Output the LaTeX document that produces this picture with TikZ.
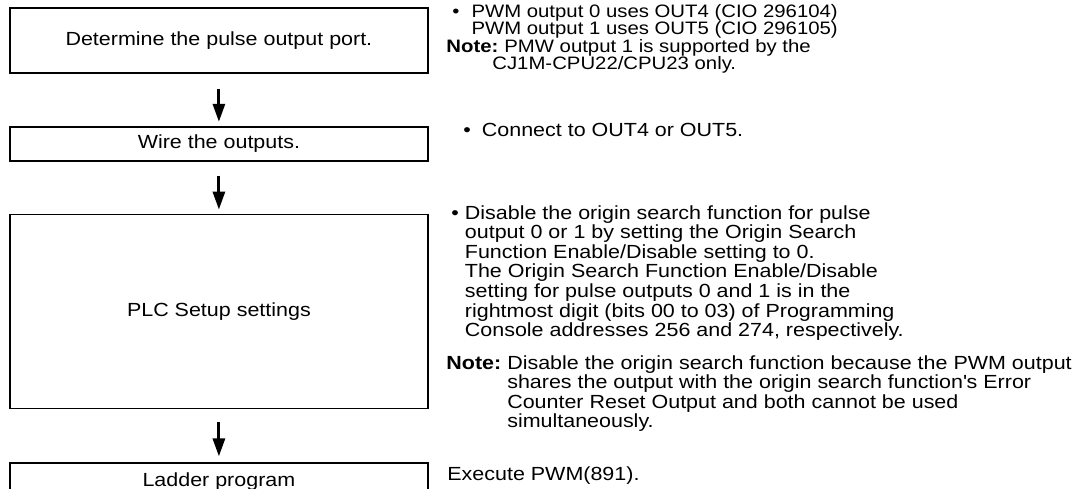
\documentclass[tikz,border=0pt]{standalone}
\usepackage{fontspec}
\setmainfont{Liberation Sans}[FakeStretch=1.13]
\usetikzlibrary{arrows.meta, positioning}

\newcommand{\blt}{\textbullet}

\begin{document}
\begin{tikzpicture}[x=1pt, y=-1pt, thick]

	\tikzset{
		stepbox/.style={
				draw, line width=1.8pt, minimum width=418pt, inner sep=0pt, font=\fontsize{19}{21}\selectfont
			},
		flow/.style={
				line width=3pt, -{Triangle[width=12pt, length=18pt]}
			},
		info/.style={
				anchor=base west, inner sep=0pt, font=\fontsize{19}{19.5}\selectfont
			},
		topinfo/.style={
				info, font=\fontsize{18}{19}\selectfont
			},
	}

	\clip (0,0) rectangle (1081,489);

	\node[stepbox, minimum height=65pt, anchor=north west](port) at (9,7) {Determine the pulse output port.};
	\node[stepbox, minimum height=34pt, below=52pt of port](wire) {Wire the outputs.};
	\node[stepbox, minimum height=194pt, below=52pt of wire](setup) {PLC Setup settings};
	\node[stepbox, minimum height=37pt, below=53pt of setup](ladder) {Ladder program};

	\draw[flow] ([yshift=-15pt]port.south) to ([yshift=4pt]wire.north);
	\draw[flow] ([yshift=-14pt]wire.south) to ([yshift=4pt]setup.north);
	\draw[flow] ([yshift=-13pt]setup.south) to ([yshift=6pt]ladder.north);

	\node[topinfo](portinfo) at (452,18) {\begin{tabular}[t]{@{}l@{\hspace{12pt}}l@{}}
		\blt & PWM output 0 uses OUT4 (CIO 296104)\\[-2pt]
		     & PWM output 1 uses OUT5 (CIO 296105)
	\end{tabular}};
	\node[topinfo](portnote) at (446,53) {\begin{tabular}[t]{@{}l@{\hspace{6pt}}l@{}}
		\textbf{Note:} & PMW output 1 is supported by the\\[-2pt]
		               & \hspace*{-12pt}CJ1M-CPU22/CPU23 only.
	\end{tabular}};
	\node[info](wireinfo) at (463,137) {\blt\hspace{11pt}Connect to OUT4 or OUT5.};
	\node[info](setupinfo) at (451,219) {\begin{tabular}[t]{@{}l@{\hspace{6pt}}l@{}}
		\blt & Disable the origin search function for pulse\\
		     & output 0 or 1 by setting the Origin Search\\
		     & Function Enable/Disable setting to 0.\\
		     & The Origin Search Function Enable/Disable\\
		     & setting for pulse outputs 0 and 1 is in the\\
		     & rightmost digit (bits 00 to 03) of Programming\\
		     & Console addresses 256 and 274, respectively.
	\end{tabular}};
	\node[info](setupnote) at (446,369) {\begin{tabular}[t]{@{}l@{\hspace{6pt}}l@{}}
		\textbf{Note:} & Disable the origin search function because the PWM output\\
		               & shares the output with the origin search function\textquotesingle s Error\\
		               & Counter Reset Output and both cannot be used\\
		               & simultaneously.
	\end{tabular}};
	\node[info](ladderinfo) at (447,480) {Execute PWM(891).};
\end{tikzpicture}
\end{document}
